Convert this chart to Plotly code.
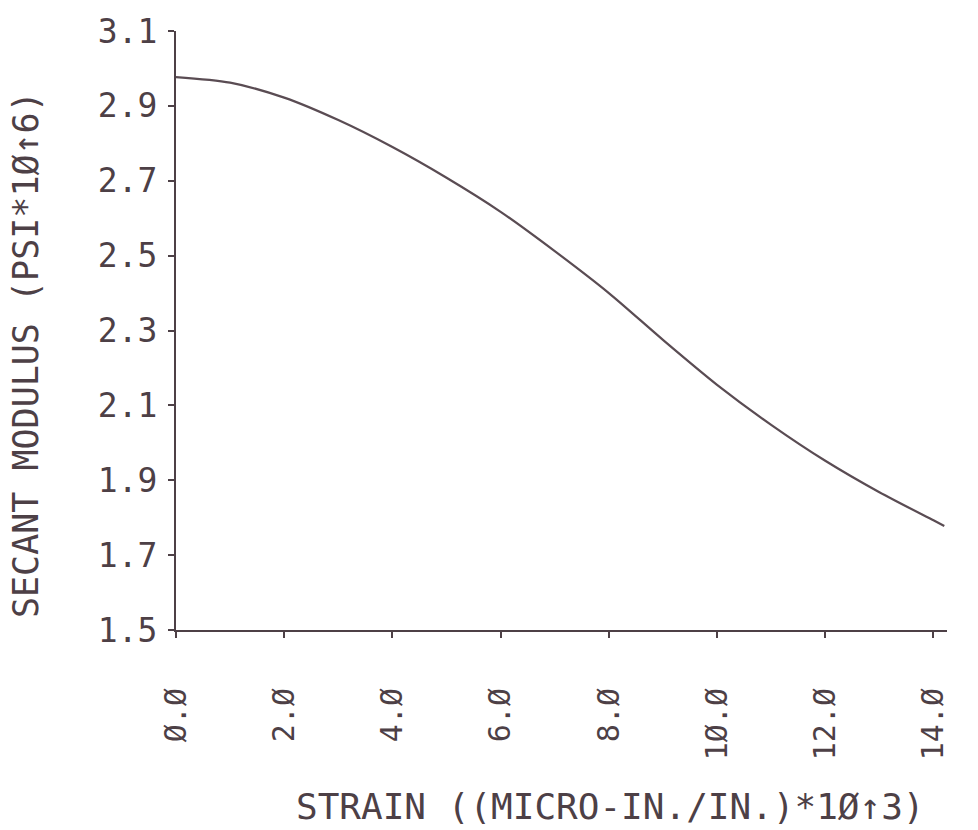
import plotly.graph_objects as go

# Data
strain = [0, 1, 2, 3, 4, 5, 6, 7, 8, 9, 10, 11, 12, 13, 14, 14.2]
modulus = [2.977, 2.962, 2.922, 2.862, 2.790, 2.708, 2.617, 2.512, 2.400,
           2.275, 2.155, 2.048, 1.952, 1.868, 1.793, 1.778]

x_tickvals = [0, 2, 4, 6, 8, 10, 12, 14]
x_ticktext = ["Ø.Ø", "2.Ø", "4.Ø", "6.Ø", "8.Ø", "1Ø.Ø", "12.Ø", "14.Ø"]
y_tickvals = [1.5, 1.7, 1.9, 2.1, 2.3, 2.5, 2.7, 2.9, 3.1]
y_ticktext = ["1.5", "1.7", "1.9", "2.1", "2.3", "2.5", "2.7", "2.9", "3.1"]

x_title = "STRAIN ((MICRO-IN./IN.)*1Ø↑3)"
y_title = "SECANT MODULUS (PSI*1Ø↑6)"

INK = "#4d4046"
FONT = "DejaVu Sans Mono"

fig = go.Figure()
fig.add_trace(go.Scatter(
    x=strain, y=modulus, mode="lines",
    line=dict(color="#5a4c53", width=2.2, shape="spline", smoothing=0.8),
    showlegend=False, hoverinfo="skip",
))

fig.update_layout(
    width=978, height=830,
    margin=dict(l=176, r=31, t=24, b=200),
    paper_bgcolor="white", plot_bgcolor="white",
    font=dict(family=FONT, size=30, color=INK),
    xaxis=dict(
        range=[0, 14.25], showgrid=False, zeroline=False,
        showline=True, linecolor=INK, linewidth=2,
        tickmode="array", tickvals=x_tickvals, ticktext=x_ticktext,
        ticks="outside", ticklen=6, tickwidth=2, tickcolor=INK,
        tickangle=-90, ticklabelstandoff=38,
        tickfont=dict(family=FONT, size=30, color=INK),
    ),
    yaxis=dict(
        range=[1.5, 3.1], showgrid=False, zeroline=False,
        showline=True, linecolor=INK, linewidth=2,
        tickmode="array", tickvals=y_tickvals, ticktext=y_ticktext,
        ticks="outside", ticklen=6, tickwidth=2, tickcolor=INK,
        ticklabelstandoff=4,
        tickfont=dict(family=FONT, size=33, color=INK),
    ),
    annotations=[
        dict(text=x_title, xref="paper", yref="paper", x=0.564, y=0,
             xanchor="center", yanchor="middle", yshift=-176, showarrow=False,
             font=dict(family=FONT, size=36, color=INK)),
        dict(text=y_title, xref="paper", yref="paper", x=0, y=0.459,
             xanchor="center", yanchor="middle", xshift=-150, textangle=-90,
             showarrow=False, font=dict(family=FONT, size=35, color=INK)),
    ],
)

fig.write_html("out.html")
